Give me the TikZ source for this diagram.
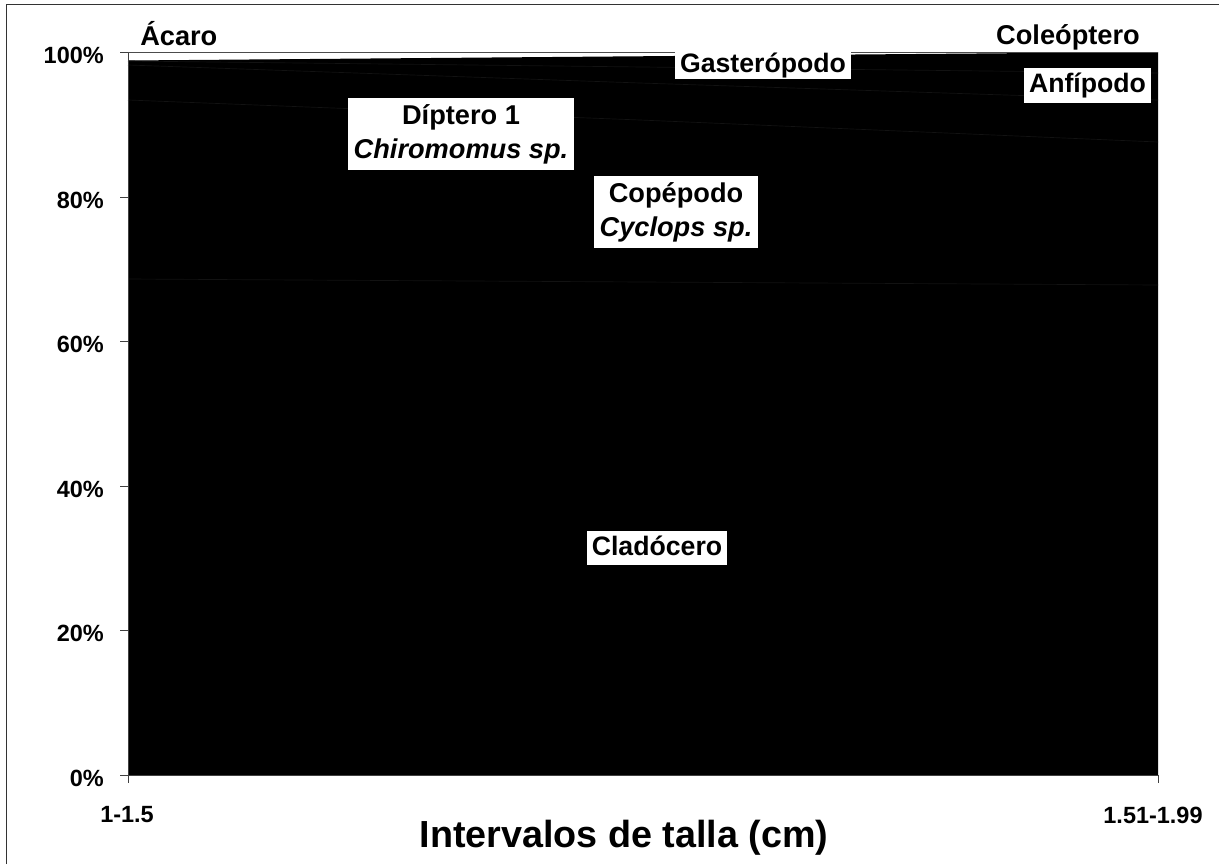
\documentclass[tikz,border=0pt]{standalone}
\usepackage{fontspec}
\setmainfont{Liberation Sans}
\definecolor{seam}{gray}{0.07}
\begin{document}
\begin{tikzpicture}[x=0.75pt,y=-0.75pt,
  tag/.style={fill=white, font=\fontsize{20}{25.5}\selectfont\bfseries,
    inner xsep=3.5pt, inner ysep=3.4pt, text height=15pt, text depth=4.2pt},
  pairtag/.style={fill=white, font=\fontsize{20.4}{25.5}\selectfont\bfseries,
    align=center, inner xsep=4.5pt, inner ysep=4.5pt},
  bare/.style={font=\fontsize{20.4}{24}\selectfont\bfseries, inner sep=0pt},
  ticklbl/.style={font=\fontsize{17.6}{20}\selectfont\bfseries, inner sep=0pt},
  seamline/.style={draw=seam, line width=0.5pt},
  axisline/.style={draw=black!75, line width=0.75pt}]
\useasboundingbox (0,0) rectangle (1219,864);
\fill[white] (0,0) rectangle (1219,864);

% chart frame: only its left and top edges fall on the page
\draw[black!80, line width=1.1pt] (6.5,864) -- (6.5,4.3) -- (1219,4.3);

% stacked area of the diet composition
\fill[black] (128,60.5) -- (1158,52) -- (1158,775) -- (128,775) -- cycle;
\draw[seamline] (128,61) -- (1158,73);
\draw[seamline] (128,65) -- (640,83) -- (1158,100);
\draw[seamline] (128,100) -- (640,120) -- (1158,142);
\draw[seamline] (128,279) -- (1158,285);
\draw[black!70, line width=0.8pt] (128,52.5) -- (1158,52.5);

% axes and ticks
\coordinate (o) at (128,775);
\coordinate (top) at (128,52.5);
\coordinate (xe) at (1158,775);
\draw[axisline] (top) -- (o) -- (xe);
\foreach \y in {52.5,197,341.5,486,630.5,775}
  \draw[axisline] (120,\y) -- (128,\y);
\draw[axisline] (128,775) -- (128,783);
\draw[axisline] (1158,775) -- (1158,783);

% y tick labels
\foreach \v/\y in {0/775,20/630.5,40/486,60/341.5,80/197,100/52.5}
  \node[ticklbl, anchor=east] (y\v) at (104,\y+3) {\v\%};

% x tick labels and axis title
\node[ticklbl] (x1) at (127,815) {1-1.5};
\node[ticklbl] (x2) at (1153,815) {1.51-1.99};
\node[font=\fontsize{28.3}{32}\selectfont\bfseries, inner sep=0pt, anchor=base]
  (xtitle) at (624,847) {Intervalos de talla (cm)};

% series labels
\node[bare, anchor=base west] (acaro) at (140,45) {Ácaro};
\node[bare, anchor=base] (coleo) at (1068,44) {Coleóptero};
\node[tag, inner ysep=1pt] (gaster) at (763,65) {Gasterópodo};
\node[tag] (anfi) at (1087.5,85.5) {Anfípodo};
\node[pairtag] (diptero) at (461,134) {Díptero 1\\\textit{Chiromomus sp.}};
\node[pairtag] (copepodo) at (676,212) {Copépodo\\\textit{Cyclops sp.}};
\node[tag] (clado) at (657,548) {Cladócero};
\end{tikzpicture}
\end{document}
